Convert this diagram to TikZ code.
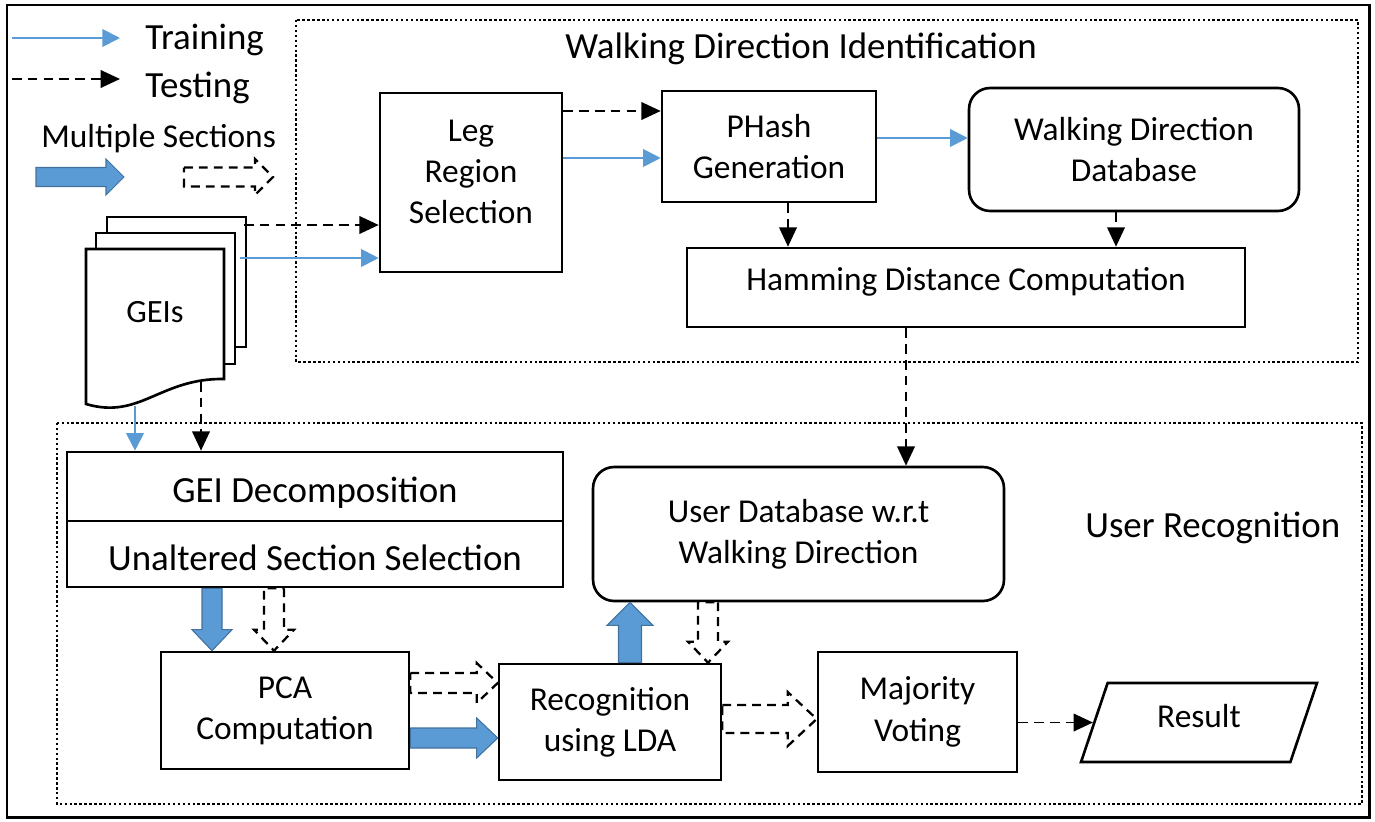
\documentclass[tikz,border=0pt]{standalone}
\usepackage{fontspec}
\setmainfont{Carlito}
\usetikzlibrary{arrows.meta,calc,shapes.geometric,positioning}
\definecolor{trainblue}{HTML}{5B9BD5}
\definecolor{trainedge}{HTML}{41719C}
\tikzset{
         fat shaft/.store in=\fatshaft,
         fat head/.store in=\fathead,
         fat tip/.store in=\fattip,
         fat shaft=0.2cm, fat head=0.4cm, fat tip=0.42cm
        }
% block arrow from #2 to #3
\newcommand{\fatarrow}[3][]{%
  \path[#1] ($(#2)!\fatshaft!90:(#3)$)
    -- ($($(#3)!\fattip!(#2)$)!\fatshaft!90:(#3)$)
    -- ($($(#3)!\fattip!(#2)$)!\fathead!90:(#3)$)
    -- (#3)
    -- ($($(#3)!\fattip!(#2)$)!\fathead!-90:(#3)$)
    -- ($($(#3)!\fattip!(#2)$)!\fatshaft!-90:(#3)$)
    -- ($(#2)!\fatshaft!-90:(#3)$) -- cycle;}
% invisible strut to move a label up (depth) or down (height)
\newcommand{\updepth}[1]{\rule[-#1]{0pt}{#1}}
\newcommand{\downheight}[1]{\rule{0pt}{#1}}

\begin{document}
\begin{tikzpicture}[x=0.02cm,y=-0.02cm,
  every node/.style={font=\fontsize{19}{23.5}\selectfont},
  big/.style={font=\fontsize{21}{25}\selectfont},
  box/.style={draw,line width=1.5pt,fill=white,align=center,inner sep=2pt},
  dbbox/.style={box,rounded corners=12pt},
  lbl/.style={inner sep=0pt,anchor=base west},
  train/.style={draw=trainblue,line width=1.1pt,-{Triangle[length=10pt,width=10pt,fill=trainblue]}},
  test/.style={line width=1.1pt,dash pattern=on 5.5pt off 3.5pt,-{Triangle[length=11pt,width=10pt]}},
  group/.style={line width=1.4pt,dash pattern=on 1.4pt off 1.4pt},
  fatblue/.style={fill=trainblue,draw=trainedge,line width=0.6pt},
  fattest/.style={fill=white,draw=black,line width=1.3pt,dash pattern=on 5pt off 3.5pt},
  page/.style={draw,line width=1.5pt,fill=white}]

\useasboundingbox (0,0) rectangle (1375,821);
\draw[line width=1.7pt] (7,5) rectangle (1369,817); % outer frame
\draw[group] (296,20) rectangle (1358,362); % walking direction block
\draw[group] (57,423) rectangle (1362,804); % user recognition block
\node[lbl,big] (wdtitle) at (565,59) {Walking Direction Identification}; % block title
\node[lbl,big] (urtitle) at (1085,537) {User Recognition}; % block title

%%% Legend

\coordinate (trainA) at (12,38);
\coordinate (trainB) at (120,38);
\draw[train] (trainA) -- (trainB); % training line
\node[lbl,big] (trainlbl) at (145,50) {Training};
\coordinate (testA) at (12,79);
\coordinate (testB) at (120,79);
\draw[test] (testA) -- (testB); % testing line
\node[lbl,big] (testlbl) at (145,97) {Testing};
\node[lbl] (multilbl) at (41,147) {Multiple Sections};
\coordinate (multiA) at (36,177);
\coordinate (multiB) at (124,177);
\fatarrow[fatblue,fat shaft=0.19cm,fat head=0.36cm,fat tip=0.36cm]{multiA}{multiB}
\coordinate (multiC) at (184,177);
\coordinate (multiD) at (273,177);
\fatarrow[fattest,fat shaft=0.19cm,fat head=0.36cm,fat tip=0.36cm]{multiC}{multiD}

%%% GEIs pages

\draw[page] (107,217) rectangle (246,347); % back page
\draw[page] (96,233) rectangle (235,364); % middle page
\draw[page] (86,249) -- (224,249) -- (224,379)
  .. controls (160,378) and (140,420) .. (86,404) -- cycle; % front page
\node[font=\fontsize{18.5}{22}\selectfont] (geis) at (155,312) {GEIs};
\coordinate (pagetop) at (244,225);
\coordinate (pagemid) at (240,258);
\coordinate (pagefoot) at (201,382);
\coordinate (pagewave) at (135,406);

%%% Boxes

\node[box,minimum width=3.64cm,minimum height=3.58cm] (leg) at (471,182.5) {Leg\\Region\\Selection\updepth{12.4pt}};
\node[box,minimum width=4.28cm,minimum height=2.22cm] (phash) at (769,146.5) {PHash\\Generation};
\node[dbbox,minimum width=6.6cm,minimum height=2.46cm] (wddb) at (1134,149.5) {Walking Direction\\Database};
\node[box,minimum width=11.16cm,minimum height=1.58cm] (hamming) at (966,287.5) {Hamming Distance Computation\updepth{9.6pt}};
\node[box,big,minimum width=9.92cm,minimum height=1.38cm] (geidec) at (315,486.5) {\downheight{21.5pt}GEI Decomposition};
\node[box,big,minimum width=9.92cm,minimum height=1.32cm] (unalt) at (315,554) {\downheight{19.3pt}Unaltered Section Selection};
\node[box,minimum width=4.96cm,minimum height=2.34cm] (pca) at (285,710.5) {PCA\\Computation};
\node[box,minimum width=4.44cm,minimum height=2.32cm] (lda) at (610,722) {Recognition\\using LDA};
\node[dbbox,minimum width=8.22cm,minimum height=2.68cm] (userdb) at (798.5,534) {User Database w.r.t\\Walking Direction};
\node[box,minimum width=3.98cm,minimum height=2.4cm] (vote) at (917.5,712) {Majority\\Voting};
\node[box,trapezium,trapezium left angle=59,trapezium right angle=121,trapezium stretches body,
      minimum width=4.72cm,minimum height=1.58cm] (result) at (1199,722.5) {Result\updepth{8pt}};

%%% Line connectors

\draw[test] (pagetop) -- (leg.west |- pagetop); % GEIs to leg, testing
\draw[train] (pagemid) -- (leg.west |- pagemid); % GEIs to leg, training
\draw[test] (pagefoot) -- (pagefoot |- geidec.north); % GEIs to decomposition
\draw[train] (pagewave) -- (pagewave |- geidec.north);
\draw[test] (leg.east |- 0,111) -- (phash.west |- 0,111); % leg to phash
\draw[train] (leg.east |- 0,158) -- (phash.west |- 0,158);
\draw[train] (phash.east |- 0,138) -- (wddb.west |- 0,138); % phash to database
\draw[test] (788,0 |- phash.south) -- (788,0 |- hamming.north); % to hamming
\draw[test] (1116,0 |- wddb.south) -- (1116,0 |- hamming.north);
\draw[test] (906,0 |- hamming.south) -- (906,0 |- userdb.north); % hamming to user db
\draw[test] (vote.east |- result.west) -- (result.west); % voting to result

%%% Block arrows

\coordinate (downA) at (212,0 |- unalt.south);
\coordinate (downB) at (212,0 |- pca.north);
\fatarrow[fatblue]{downA}{downB}
\coordinate (downC) at (274,0 |- unalt.south);
\coordinate (downD) at (274,0 |- pca.north);
\fatarrow[fattest]{downC}{downD}
\coordinate (rightA) at (pca.east |- 0,683);
\coordinate (rightB) at (lda.west |- 0,683);
\fatarrow[fattest]{rightA}{rightB}
\coordinate (rightC) at (pca.east |- 0,738);
\coordinate (rightD) at (lda.west |- 0,738);
\fatarrow[fatblue]{rightC}{rightD}
\coordinate (upA) at (630,0 |- lda.north);
\coordinate (upB) at (630,0 |- userdb.south);
\fatarrow[fatblue,fat shaft=0.23cm,fat head=0.46cm,fat tip=0.46cm]{upA}{upB}
\coordinate (downE) at (708,0 |- userdb.south);
\coordinate (downF) at (708,0 |- lda.north);
\fatarrow[fattest]{downE}{downF}
\coordinate (rightE) at (lda.east |- 0,719);
\coordinate (rightF) at (vote.west |- 0,719);
\fatarrow[fattest,fat shaft=0.28cm,fat head=0.54cm,fat tip=0.58cm]{rightE}{rightF}
\end{tikzpicture}
\end{document}
